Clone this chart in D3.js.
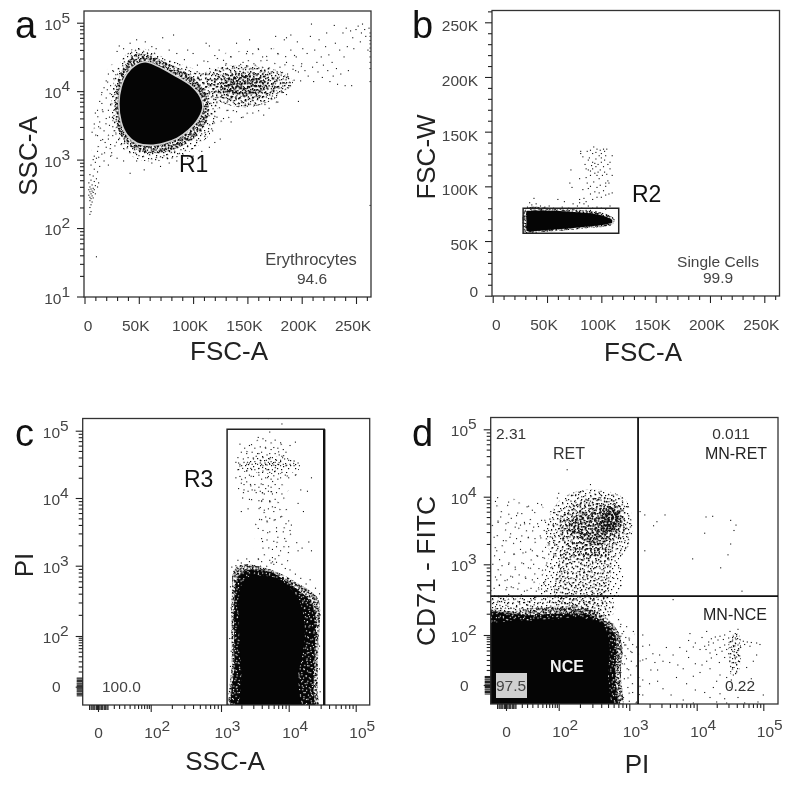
<!DOCTYPE html>
<html>
<head>
<meta charset="utf-8">
<script src="https://cdn.jsdelivr.net/npm/d3@7"></script>
<style>
  body { margin: 0; background: #fff; }
  svg { display: block; filter: blur(0.35px); font-family: "Liberation Sans", Arial, sans-serif; }
</style>
</head>
<body>
<div id="chart"></div>
<script>

// --- panel a : FSC-A (K) vs SSC-A (decades)
const gateR1 = [[31.6,3.82],[33.7,4.06],[39.2,4.26],[46.9,4.38],[56.1,4.43],[66.8,4.37],[82.1,4.24],[97.4,4.09],[106.6,3.92],[109.1,3.77],[105.1,3.6],[95.9,3.43],[85.2,3.31],[72.9,3.24],[60.7,3.21],[48.4,3.24],[39.2,3.36],[33.7,3.55]]
const aLeftCloud = [[8,3.05],[10,3.6],[16,4],[22,4.35],[30,4.4],[32,3.4],[22,3]]
const aTailCloud = [[112,4.42],[150,4.6],[182,4.6],[200,4.45],[192,4.05],[165,3.68],[130,3.55],[112,3.5]]
const aHalo = [[25,3.72],[27,4.15],[34,4.45],[45,4.62],[60,4.6],[72,4.5],[88,4.4],[104,4.3],[120,4.1],[122,3.7],[118,3.42],[104,3.2],[88,3.05],[70,2.98],[50,3],[36,3.15],[28,3.4]]
const aHaloDense = [[29,3.6],[30,4.1],[37,4.38],[47,4.54],[60,4.52],[72,4.44],[88,4.32],[100,4.2],[112,3.95],[114,3.65],[106,3.4],[92,3.22],[72,3.1],[52,3.12],[40,3.22],[32,3.4]]
const aCluster = [[100,4.16],[122,4.34],[150,4.38],[178,4.3],[192,4.14],[172,3.86],[145,3.76],[122,3.86],[102,4]]
const aClusterMid = [[112,4.13],[130,4.26],[152,4.3],[174,4.22],[180,4.06],[164,3.9],[142,3.85],[122,3.94]]
const aClusterCore = [[128,4.16],[150,4.24],[166,4.16],[162,4],[142,3.94],[126,4.04]]
const aPoints = [
  [172,4.28],[175,4.05],[178,4.18],[180,4.35],[182,3.98],[184,4.12],[186,4.42],[187,4.25],[189,4.08],[190,4.6],[192,4.32],[193,4.16],[195,4.5],[196,4.72],[197,4.28],[199,4.15],[200,4.4],[201,4.62],[197,3.85],[203,4.3],[205,4.55],[206,4.22],[208,4.8],[209,4.98],[210,4.35],[211,4.14],[212,4.6],[214,4.42],[215,4.28],[216,4.75],[218,4.5],[219,4.2],[220,4.38],[222,4.65],[223,4.85],[224,4.3],[225,4.53],[226,4.14],[228,4.42],[229,4.22],[230,4.96],[231,4.7],[232,4.33],[233,4.1],[235,4.6],[236,4.25],[238,4.85],[239,4.5],[240,4.08],[241,4.92],[242,4.65],[243,4.3],[245,4.88],[246,4.08],[247,4.78],[248,4.62],[250,4.9],[252,4.95],[254,4.72],[255,4.85],[256,4.98],[258,4.9],[259,4.8],[261,4.6],[262,4.92],
  [263,4.85],[263,4.8],[263,4.74],[263,4.69],[263,4.63],[263,4.58],[263,4.5],[263,4.42],[263,4.33],[263,4.14],[263,2.33],
  [72,4.78],[82,4.82],[95,4.6],[100,4.55],[112,4.7],[115,4.66],[120,4.52],[124,4.6],[128,4.45],[135,4.5],[140,4.7],[146,4.42],[150,4.58],[152,4.75],[156,4.4],[160,4.62],[164,4.5],[168,4.45],[172,4.62],[178,4.55],[184,4.75],[186,4.78],[176,4.8],[190,4.82],[130,4.38],[110,4.44],[104,4.38],[92,4.46],[85,4.55],[78,4.6],[66,4.62],[62,4.65],[56,4.72],[48,4.75],[42,4.7],[32,4.66],[30,4.58],[36,4.62],
  [112,3.55],[118,3.42],[122,3.62],[125,3.3],[128,3.6],[132,3.72],[135,3.55],[140,3.7],[146,3.62],[150,3.78],[155,3.68],[160,3.8],[165,3.65],[170,3.75],[175,3.9],[178,3.84],[186,3.95],[120,3.25],[115,3.18],[108,3.12],[100,3.05],[95,3.02],[90,2.92],[85,2.98],[78,2.95],[70,2.9],[62,2.95],[55,2.85],[42,2.8],[48,2.98],[36,2.98],[30,3.02],[25,3.1],
  [22,4.25],[20,4.15],[18,4.05],[16,3.98],[24,4.08],[26,4.3],[14,3.85],[12,3.72],[20,3.9],[24,3.8],[17,3.7],[10,3.68],[9,3.52],[14,3.55],[20,3.6],[23,3.5],[26,3.62],[18,3.42],[12,3.35],[7,3.4],[15,3.28],[22,3.3],[26,3.35],[28,3.2],[20,3.18],[12,3.12],[9,3.05],[16,3.08],[24,3.05],[28,3.95],[25,3.95],[22,3.72],[13,3.48],[19,3.25],[26,3.48],[21,4.02],[27,4.18],[16,3.82],[23,3.62],[28,3.55],[27,3.72],[29,3.9],[24,3.22],[18,2.98],[10,2.96],[14,2.9],[22,2.92],
  [8,3],[11,3.02],[6,2.92],[9,2.86],[12,2.82],[5,2.78],[8,2.76],[11,2.72],[6,2.7],[9,2.68],[13,2.66],[4,2.66],[7,2.63],[10,2.62],[5,2.6],[8,2.58],[12,2.6],[6,2.57],[9,2.56],[4,2.56],[7,2.54],[5,2.53],[8,2.52],[10,2.5],[6,2.5],[4,2.48],[7,2.47],[5,2.45],[8,2.44],[6,2.43],[5,2.4],[7,2.38],[6,2.34],[5,2.3],[6,2.24],[5,2.2],[11,1.58],[9,0.98]
]

// --- panel b : FSC-A (K) vs FSC-W (K)
const gateR2 = [[28,57],[116,57],[116,80],[28,80]]
const bBand = [[31,59.5],[31,77.5],[45,78],[60,77.5],[75,76.5],[90,75.5],[100,73.5],[106,71.5],[110,69.5],[110,66.5],[100,64.5],[85,63],[70,61.5],[55,60.5],[42,59.5],[34,58.5]]
const bFringe = [[30,57.5],[30,79],[60,79.5],[90,77.5],[104,75],[112,70],[110,65],[85,61.5],[55,59],[38,58]]
const bPoints = [
  [32,81],[34,85],[38,89],[36,83],[40,84],[44,82],[48,81],[52,82],[56,80],[60,88],[64,81],[66,86],[70,80],[74,84],[72,79.5],[78,82],[82,80],[84,84],[80,85],[86,86],[88,82],[92,80],[96,81],[100,80],[104,79],[108,82],[90,78],[86,78],[95,77],[58,79],[50,79],[42,79.5],[35,79],[33,57],[37,57],[40,58],
  [72,115],[73,99],[71,103],[80,107],[83,97],[80,88],[84,89],[88,98],[90,93],[92,88],[96,90],[100,90],[104,92],[107,93],[110,94],[86,108],[90,100],[93,104],[96,99],[99,101],[102,96],[104,103],[107,103],[106,105],[104,100],[98,107],[101,110],[105,111],[110,110],[108,116],[106,120],[110,128],[108,122],[104,128],[102,118],[100,122],[97,113],[95,118],[94,112],[92,116],[90,114],[88,115],[86,116],[85,120],[88,124],[92,122],[95,125],[98,128],[100,130],[103,132],[105,134],[102,134],[99,133],[96,134],[93,136],[90,133],[87,132],[81,132],[81,130],[83,127],[89,126],[92,130],[95,131],[97,120],[100,126],[103,124],[91,119],[94,121],[96,110],[99,115],[103,113],[90,110],[87,103],[94,95],[98,94]
]

// --- panel c : SSC-A (decades) vs PI (decades)
const gateR3 = [[3.09,-0.72],[3.09,5.02],[4.53,5.02],[4.53,-0.72]]
const cHalo = [[3.18,-1.5],[3.16,1],[3.16,2.6],[3.2,2.95],[3.35,3.02],[3.6,2.98],[3.9,2.88],[4.15,2.74],[4.35,2.62],[4.45,2.5],[4.44,1.5],[4.43,0],[4.4,-1.5]]
const cInner = [[3.22,-1.5],[3.2,1],[3.2,2.5],[3.25,2.84],[3.4,2.94],[3.7,2.92],[3.9,2.82],[4.1,2.68],[4.3,2.52],[4.4,2.3],[4.39,1.5],[4.37,0],[4.34,-1.5]]
const cCore = [[3.33,-1.5],[3.3,0.5],[3.28,1.5],[3.26,2.4],[3.3,2.72],[3.4,2.84],[3.7,2.85],[3.87,2.8],[4.02,2.68],[4.16,2.5],[4.24,2.1],[4.2,1.2],[4.14,0.5],[4.12,-1.5]]
const cUpper = [[3.3,4.05],[3.24,4.5],[3.5,4.85],[3.75,4.9],[4,4.72],[4.14,4.45],[3.95,4.05],[3.75,3.9],[3.5,3.9]]
const cRow = [[3.25,4.42],[3.5,4.6],[3.8,4.62],[4.1,4.54],[4.15,4.42],[3.85,4.36],[3.55,4.38]]
const cMid = [[3.55,3],[3.5,3.6],[3.6,4.1],[3.95,4.1],[4.05,3.4],[3.95,3]]
const cPoints = [
  [3.9,5.1],[3.7,5.18],[3.72,4.98],[3.55,4.9],[3.62,4.88],[3.66,4.85],[3.8,4.86],[3.88,4.82],[4.1,4.83],[4.02,4.78],[3.28,4.8],[3.42,4.78],[3.35,4.74],[3.5,4.74],[3.58,4.76],[3.66,4.74],[3.74,4.72],[3.78,4.75],[3.84,4.74],[3.92,4.72],[3.96,4.68],[3.3,4.68],[3.38,4.66],[3.46,4.68],[3.54,4.66],[3.6,4.68],[3.68,4.64],[3.72,4.66],[3.8,4.66],[3.86,4.64],[3.9,4.62],[3.25,4.6],[3.33,4.58],[3.4,4.6],[3.48,4.58],[3.52,4.62],[3.58,4.56],[3.62,4.6],[3.67,4.56],[3.72,4.58],[3.76,4.6],[3.82,4.56],[3.88,4.56],[3.94,4.58],[4,4.56],[4.08,4.55],[4.14,4.52],[3.22,4.53],[3.26,4.52],[3.28,4.5],[3.34,4.53],[3.38,4.5],[3.42,4.52],[3.46,4.5],[3.5,4.54],[3.54,4.5],[3.58,4.52],[3.6,4.5],[3.62,4.48],[3.65,4.52],[3.66,4.5],[3.68,4.49],[3.7,4.53],[3.72,4.5],[3.74,4.54],[3.76,4.51],[3.78,4.49],[3.8,4.53],[3.84,4.5],[3.88,4.48],[3.92,4.5],[3.96,4.48],[4.02,4.5],[4.08,4.48],[4.16,4.48],[3.25,4.42],[3.32,4.44],[3.38,4.4],[3.44,4.44],[3.5,4.42],[3.56,4.44],[3.62,4.4],[3.68,4.42],[3.72,4.38],[3.76,4.42],[3.8,4.4],[3.85,4.36],[3.9,4.38],[3.95,4.34],[4.0,4.3],[3.28,4.32],[3.36,4.3],[3.42,4.34],[3.48,4.32],[3.56,4.34],[3.6,4.28],[3.66,4.3],[3.7,4.32],[3.74,4.28],[3.78,4.33],[3.84,4.28],[3.88,4.3],[3.22,4.3],[4.1,4.34],[4.34,4.3],[3.3,4.22],[3.34,4.2],[3.38,4.24],[3.44,4.18],[3.5,4.2],[3.56,4.16],[3.62,4.2],[3.66,4.14],[3.7,4.18],[3.74,4.16],[3.8,4.2],[3.86,4.14],[4.18,4.12],[3.26,4.14],[3.34,4.12],[3.4,4.1],[3.46,4.12],[3.52,4.08],[3.58,4.1],[3.64,4.06],[3.7,4.1],[3.76,4.06],[3.82,4.08],[3.9,4.06],[4.28,4.1],[3.32,4],[3.42,3.98],[3.56,3.96],[3.62,3.98],[3.72,3.96],[3.8,3.98],[4.14,3.92],[3.3,3.8],[3.4,3.84],[3.58,3.86],[3.64,3.82],[3.7,3.84],[3.8,3.86],[3.78,3.8],[3.66,3.72],[3.72,3.7],[4.22,3.8],[3.6,3.68],[3.68,3.66],[3.8,3.68],[3.88,3.72],[3.96,3.62],[4.04,3.6],[3.55,3.55],[3.62,3.52],[3.72,3.5],[3.82,3.56],[3.92,3.5],[4.02,3.52],[3.6,3.4],[3.68,3.38],[3.78,3.36],[3.84,3.42],[3.96,3.36],[4.12,3.34],[4.3,3.35],[3.62,3.26],[3.76,3.24],[3.82,3.28],[3.88,3.22],[4.0,3.28],[4.14,3.22],[4.2,3.26],[4.34,3.22],[3.55,3.1],[3.6,3.06],[3.38,3.1],[3.42,3.06],[3.25,3.08],[3.3,3.04],[3.72,3.08],[3.76,3.12],[3.8,3.1],[3.74,3.04],[3.78,3.02],[3.82,3.05],[3.9,3.02],[3.95,2.96],[4.02,2.94],[4.1,2.88],[4.18,2.82],[4.26,2.74],[4.4,2.68],[4.32,2.8],[4.46,2.6],[3.22,3.0],[3.16,2.98],[3.14,2.7],[3.15,2.4],[3.13,1.9],[3.15,1.4],[3.14,0.8],[4.47,2.3],[4.46,1.6],[4.46,0.7],[4.47,-0.2]
]

// --- panel d : PI (decades) vs CD71-FITC (decades)
const quadX = 3.13
const quadY = 2.55
const dNce = [[-1.5,-1.5],[-1.5,2.17],[-0.7,2.17],[0.3,2.2],[1,2.2],[2,2.23],[2.3,2.24],[2.55,2.18],[2.68,2.05],[2.72,1.5],[2.7,0.5],[2.66,-1.5]]
const dNceInner = [[-1.5,-1.5],[-1.5,2.24],[1,2.28],[2,2.3],[2.45,2.28],[2.68,2.14],[2.8,1.95],[2.8,0.5],[2.76,-1.5]]
const dNceHalo = [[-1.5,-1.5],[-1.5,2.3],[0.3,2.34],[1,2.38],[2,2.4],[2.4,2.38],[2.65,2.26],[2.84,2.05],[2.9,1.5],[2.88,0.5],[2.84,-1.5]]
const dBand = [[-0.7,2.28],[-0.7,2.53],[0.5,2.53],[1.6,2.54],[2.72,2.54],[2.78,2.3]]
const dLeft = [[-0.62,2.56],[-0.62,3.98],[0.5,3.95],[1.4,3.85],[1.9,3.6],[1.85,2.56]]
const dColumnOuter = [[1.3,2.56],[1.55,3],[1.8,3.3],[2.1,3.3],[2.55,3.3],[2.85,3.1],[2.85,2.56]]
const dColumn = [[1.85,2.42],[1.95,2.95],[2.1,3.3],[2.45,3.3],[2.72,3.15],[2.72,2.7],[2.66,2.4],[2.5,2.28],[2.05,2.32]]
const dRetOuter = [[1.5,3.35],[1.7,3.75],[2.05,3.98],[2.35,4.1],[2.7,4.08],[2.95,3.95],[3.05,3.65],[2.98,3.25],[2.78,3.05],[2.4,3.05],[1.95,3.1]]
const dRetCloud = [[1.95,3.55],[2.1,3.8],[2.3,3.95],[2.55,4],[2.8,3.95],[2.93,3.75],[2.95,3.5],[2.82,3.3],[2.65,3.12],[2.4,3.1],[2.1,3.3]]
const dRetCore = [[2.1,3.55],[2.25,3.72],[2.45,3.78],[2.7,3.88],[2.88,3.78],[2.88,3.55],[2.7,3.35],[2.5,3.28],[2.3,3.38]]
const dRetDark = [[2.6,3.72],[2.75,3.84],[2.85,3.72],[2.78,3.52],[2.6,3.5]]
const dNceRight = [[2.8,2.3],[3.1,1.9],[3.11,-0.8],[2.8,-0.8]]
const dMnColumn = [[4.5,0.7],[4.5,1.9],[4.62,2.02],[4.66,1.25],[4.62,0.45],[4.52,0.4]]
const dPoints = [
  [2.12,4.4],[2.35,4.08],[2.45,4.18],[2.2,4.02],[2,4.05],[1.95,3.98],[2.3,4.06],[2.6,4.08],[2.75,4.02],[2.9,3.98],[2.98,3.85],[3.02,3.6],[2.98,3.4],[2.95,3.25],[1.7,3.78],[1.8,3.6],[1.62,3.5],[1.5,3.62],[1.35,3.88],[1.2,3.9],[1,3.8],[0.8,3.85],[0.6,3.75],[0.4,3.72],[0.1,3.92],[-0.4,3.93],[-0.2,3.7],[-0.3,3.62],[0,3.6],[0.2,3.68],[0.35,3.55],[0.55,3.58],[0.7,3.62],[0.9,3.6],[1.05,3.55],[1.2,3.6],[1.35,3.65],[1.45,3.5],[1.6,3.32],[1.75,3.4],[1.85,3.28],[-0.45,3.4],[-0.1,3.35],[0.15,3.4],[0.4,3.38],[0.6,3.42],[0.85,3.4],[1.1,3.38],[1.3,3.42],[1.5,3.25],[1.62,3.15],[1.8,3.1],[-0.35,3.2],[-0.05,3.18],[0.3,3.15],[0.55,3.22],[0.75,3.18],[1,3.2],[1.2,3.12],[1.4,3.1],[1.55,3.02],[1.7,2.95],[1.5,2.92],[-0.5,3],[-0.15,2.98],[0.1,3],[0.35,2.96],[0.6,3.02],[0.85,2.95],[1.05,3],[1.25,2.94],[1.38,2.85],[-0.4,2.82],[-0.2,2.85],[0.05,2.78],[0.25,2.82],[0.5,2.85],[0.75,2.8],[1,2.78],[1.2,2.8],[1.45,2.72],[1.6,2.8],[-0.45,2.66],[-0.25,2.7],[0,2.64],[0.2,2.68],[0.45,2.65],[0.7,2.62],[0.95,2.66],[1.15,2.62],[1.35,2.65],[1.55,2.62],[1.7,2.68],[2.8,3.05],[2.85,2.95],[2.78,2.8],[2.88,2.7],[2.9,3.15],
  [-0.5,2.5],[-0.3,2.48],[-0.1,2.5],[0.1,2.46],[0.3,2.5],[0.5,2.46],[0.7,2.5],[0.9,2.46],[1.1,2.5],[1.3,2.46],[1.5,2.5],[1.65,2.46],[-0.4,2.4],[-0.2,2.38],[0,2.42],[0.2,2.38],[0.4,2.4],[0.6,2.38],[0.8,2.42],[1,2.38],[1.2,2.4],[1.4,2.36],[1.6,2.38],
  [2.88,2.15],[2.92,2.05],[2.95,1.9],[2.88,1.95],[3,1.8],[3.05,1.62],[2.92,1.7],[2.98,1.45],[3.04,1.3],[2.9,1.25],[2.96,1.05],[3.03,0.95],[2.9,0.85],[2.97,0.65],[2.88,0.5],[3.02,0.4],[2.93,0.25],[2.86,0.1],[2.98,-0.1],[3.05,-0.3],[2.9,-0.4],[2.86,-0.6],[3,-0.65],[3.1,-0.72],[2.95,1.6],[2.88,1.4],[3.06,2.05],
  [3.16,3.78],[3.23,3.73],[3.36,3.57],[3.53,3.73],[3.41,3.63],[3.23,3.2],[4.14,3.7],[4.24,3.71],[4.12,3.46],[4.51,3.65],[4.59,3.58],[4.56,3.5],[4.51,3.3],[4.47,3.14],[3.94,3.08],[4.36,2.95],[4.68,2.62],
  [3.65,2.5],[3.2,2],[3.2,1.55],[3.2,1],[3.2,0.2],[3.2,-0.4],[3.3,1.6],[3.35,1.25],[3.45,1.2],[3.25,1.05],[3.55,1.5],[3.38,0.9],[3.32,0.6],[3.42,0.6],[3.42,0.15],[3.3,0.05],[3.5,-0.15],[3.6,0.9],[3.5,0.95],[3.65,1.2],[3.72,0.8],[3.8,0.65],[3.75,1.5],[3.85,1.35],[3.88,1.1],[3.9,2.02],[3.88,1.78],[3.95,1.52],[3.7,0.3],[3.62,-0.4],[3.8,-0.6],[3.85,0.05],[3.95,0.35],[3.98,-0.2],[3.95,-0.72],
  [4.15,2.05],[4.08,1.9],[3.98,1.68],[3.98,0.85],[4.05,1.42],[4.12,1.55],[4.18,1.72],[4.22,1.85],[4.28,1.92],[4.35,1.95],[4.42,2],[4.5,2.05],[4.58,2.02],[4.62,2.08],[4.55,1.95],[4.48,1.88],[4.4,1.82],[4.32,1.8],[4.25,1.68],[4.18,1.6],[4.14,1.42],[4.2,1.28],[4.28,1.4],[4.35,1.5],[4.42,1.6],[4.5,1.72],[4.54,1.8],[4.58,1.88],[4.6,1.95],[4.65,1.82],[4.7,1.75],[4.76,1.72],[4.82,1.7],[4.9,1.68],[4.95,1.62],[4.72,1.62],[4.8,1.55],[4.66,1.5],[4.62,1.6],[4.58,1.68],[4.55,1.58],[4.5,1.5],[4.45,1.42],[4.38,1.35],[4.3,1.22],[4.22,1.08],[4.15,0.95],[4.08,0.8],[4.05,0.5],[4.2,0.65],[4.34,0.9],[4.42,1.1],[4.48,1.25],[4.54,1.35],[4.57,1.42],[4.6,1.3],[4.63,1.4],[4.56,1.2],[4.6,1.12],[4.62,1.22],[4.58,1.05],[4.55,0.9],[4.6,0.8],[4.63,0.95],[4.56,0.7],[4.6,0.55],[4.55,0.4],[4.52,0.2],[4.5,-0.1],[4.45,0.3],[4.35,0.4],[4.3,0.15],[4.25,-0.1],[4.12,-0.3],[4.2,-0.5],[4.35,-0.35],[4.42,-0.55],[4.62,-0.5],[4.75,0.7],[4.85,0.95],[4.82,0.25],[4.7,-0.2],[5,-0.4],[4.9,1.2],[4.92,-0.68],[4.3,-0.68],[4.45,-0.72],[4.72,-0.72]
]
const labelBox = 97.5

// --- ticks
const kTicks = [0, 50, 100, 150, 200, 250]
const kMinor = [10,20,30,40,60,70,80,90,110,120,130,140,160,170,180,190,210,220,230,240,260]
const decadesA = [1, 2, 3, 4, 5]
const decadesB = [0, 2, 3, 4, 5]
const logSteps = [0.301,0.477,0.602,0.699,0.778,0.845,0.903,0.954]
const logMinor = [1,2,3,4].flatMap(d => logSteps.map(s => d + s))
const biexLow = [0.6,0.8,1,1.2,1.38,1.52,1.64,1.75,1.85,1.93]
const biexMinor = biexLow.concat(logMinor.filter(d => d > 2))
const zeroBlock = [-0.34,-0.28,-0.24,-0.18,-0.14,-0.08,-0.04,0.02,0.06,0.12,0.16,0.22,0.26,0.32,0.36]
const stipple = [[2,3],[9,1],[16,4],[24,2],[28,8],[5,9],[12,7],[20,10],[1,15],[8,14],[15,13],[25,14],[4,21],[11,19],[18,18],[22,22],[28,19],[7,26],[14,25],[20,28],[26,26],[3,28],[19,1],[13,2],[27,3],[6,5],[22,6],[17,8],[10,11],[3,12],[24,10],[29,13],[13,16],[20,15],[7,18],[25,18],[1,23],[16,22],[10,23],[27,23],[5,15],[23,28],[12,28],[18,25]]

const width = 800
const height = 785
const svg = d3.select('#chart').append('svg').attr('width', width).attr('height', height)
const defs = svg.append('defs')

// one tile, stacked at different rotations for the denser parts
function addPattern(id, rotate, tile, color, size) {
  const p = defs.append('pattern')
    .attr('id', id)
    .attr('patternUnits', 'userSpaceOnUse')
    .attr('width', 30 * tile).attr('height', 30 * tile)
    .attr('patternTransform', 'rotate(' + rotate + ')')
  p.selectAll('rect').data(stipple).join('rect')
    .attr('x', d => d[0] * tile).attr('y', d => d[1] * tile)
    .attr('width', size).attr('height', size)
    .attr('fill', color)
}
const rotations = [0, 37, 71, 113, 149, 23, 58, 97, 131, 11]
rotations.forEach((r, i) => addPattern('st' + i, r, 1, '#0a0a0a', 1.2))
addPattern('sparse', 19, 2, '#0a0a0a', 1.1)
addPattern('neg0', 14, 1, '#fff', 1.1)
addPattern('neg1', 83, 1, '#fff', 1.1)

function panel(o) {
  const g = svg.append('g')
  const id = 'clip' + o.name
  defs.append('clipPath').attr('id', id).append('rect')
    .attr('x', o.left).attr('y', o.top).attr('width', o.right - o.left).attr('height', o.bottom - o.top)
  const line = d3.line().x(d => o.x(d[0])).y(d => o.y(d[1]))
  const smooth = d3.line().x(d => o.x(d[0])).y(d => o.y(d[1])).curve(d3.curveCatmullRomClosed)
  const marks = g.append('g').attr('clip-path', 'url(#' + id + ')')
  // stippled density regions, level = how many rotated tiles are stacked, 0 = the sparse tile
  ;(o.clouds || []).forEach(c => {
    if (c.neg) {
      marks.append('path').attr('d', smooth(c.shape)).attr('fill', '#050505')
      d3.range(c.neg).forEach(i => marks.append('path').attr('d', smooth(c.shape)).attr('fill', 'url(#neg' + i + ')'))
    } else if (c.level === 0) {
      marks.append('path').attr('d', smooth(c.shape)).attr('fill', 'url(#sparse)')
    } else {
      d3.range(c.level).forEach(i => {
        marks.append('path').attr('d', smooth(c.shape)).attr('fill', 'url(#st' + i + ')')
      })
    }
  })
  ;(o.solids || []).forEach(s => {
    marks.append('path').attr('d', smooth(s)).attr('fill', '#050505')
  })
  ;(o.hard || []).forEach(s => {
    marks.append('path').attr('d', line(s) + 'Z').attr('fill', '#050505')
  })
  marks.append('g').selectAll('rect').data(o.points || []).join('rect')
    .attr('x', d => o.x(d[0]) - 0.55).attr('y', d => o.y(d[1]) - 0.55)
    .attr('width', 1.1).attr('height', 1.1)
    .attr('fill', '#111')
  g.append('rect')
    .attr('x', o.left).attr('y', o.top).attr('width', o.right - o.left).attr('height', o.bottom - o.top)
    .attr('fill', 'none').attr('stroke', '#333').attr('stroke-width', 1.3)

  // axes
  const xa = g.append('g').attr('transform', 'translate(0,' + o.bottom + ')')
  const ya = g.append('g').attr('transform', 'translate(' + o.left + ',0)')
  xa.append('g').call(d3.axisBottom(o.x).tickValues(o.xMinor).tickSize(4).tickFormat('')).call(a => a.select('.domain').remove())
  ya.append('g').call(d3.axisLeft(o.y).tickValues(o.yMinor).tickSize(4).tickFormat('')).call(a => a.select('.domain').remove())
  xa.append('g').call(d3.axisBottom(o.x).tickValues(o.xTicks).tickSize(7).tickFormat(o.fmt)).call(a => a.select('.domain').remove()).call(o.xLabel)
  ya.append('g').call(d3.axisLeft(o.y).tickValues(o.yTicks).tickSize(7).tickPadding(7).tickFormat(o.fmt)).call(a => a.select('.domain').remove()).call(o.yLabel)
  if (o.zeroBlocks) {
    xa.append('g').call(d3.axisBottom(o.x).tickValues(zeroBlock).tickSize(5).tickFormat('')).call(a => a.select('.domain').remove())
    ya.append('g').call(d3.axisLeft(o.y).tickValues(zeroBlock).tickSize(6).tickFormat('')).call(a => a.select('.domain').remove())
  }
  g.selectAll('.tick line').attr('stroke', '#222').attr('stroke-width', 1.1)
  g.selectAll('.tick text').attr('fill', '#444').style('font-size', '15.5px').style('font-family', 'inherit')
  return { g, line }
}

function kLabelX(sel) {
  sel.selectAll('.tick text').attr('dx', d => d === 0 ? 3 : -3.5).attr('dy', 0).attr('y', 34)
}
function kLabelY(sel) {
  sel.selectAll('.tick text').attr('dy', d => d === 0 ? 0.5 : 8.5)
}
function supText(t, d) {
  t.text(null)
  t.append('tspan').text('10')
  t.append('tspan').attr('dy', -7).text(d)
}
function logLabelX(sel) {
  sel.selectAll('.tick text').each(function(d) {
    const t = d3.select(this).attr('y', 33).attr('dy', 0)
    if (d === 0) { t.text('0').attr('dx', 0); return }
    t.attr('dx', 6)
    supText(t, d)
  })
}
function logLabelY(sel) {
  sel.selectAll('.tick text').each(function(d) {
    const t = d3.select(this).attr('dy', 6.5).attr('x', -14)
    if (d === 0) { t.text('0').attr('x', -22).attr('dy', 5); return }
    supText(t, d)
  })
}
const kFormat = d => d === 0 ? '0' : d + 'K'

// panel a
const xA = d3.scaleLinear().domain([0, 250]).range([84.5, 356])
const yA = d3.scaleLinear().domain([1, 5]).range([296.5, 22.7])
const pa = panel({
  name: 'a', left: 84, right: 371, top: 11, bottom: 297, x: xA, y: yA,
  clouds: [{shape: aLeftCloud, level: 0}, {shape: aTailCloud, level: 0}, {shape: aHalo, level: 2}, {shape: aHaloDense, level: 9},
    {shape: aCluster, level: 3}, {shape: aClusterMid, level: 4}, {shape: aClusterCore, level: 7}],
  points: aPoints,
  xTicks: kTicks, xMinor: kMinor, yTicks: decadesA, yMinor: logMinor,
  fmt: kFormat, xLabel: kLabelX, yLabel: logLabelY
})
pa.g.append('path').attr('d', d3.line().x(d => xA(d[0])).y(d => yA(d[1])).curve(d3.curveCatmullRomClosed)(gateR1))
  .attr('fill', '#050505').attr('stroke', '#d4d4d4').attr('stroke-width', 1.6)

// panel b
const xB = d3.scaleLinear().domain([0, 250]).range([492.7, 764.3])
const yB = d3.scaleLinear().domain([0, 250]).range([295.7, 22.3])
const pb = panel({
  name: 'b', left: 492, right: 779.5, top: 10.5, bottom: 296, x: xB, y: yB,
  clouds: [{shape: bFringe, level: 8}], hard: [bBand], points: bPoints,
  xTicks: kTicks, xMinor: kMinor, yTicks: kTicks, yMinor: kMinor,
  fmt: kFormat, xLabel: kLabelX, yLabel: kLabelY
})
pb.g.append('path').attr('d', pb.line(gateR2) + 'Z').attr('fill', 'none').attr('stroke', '#222').attr('stroke-width', 1.5)

// panel c
const xC = d3.scaleLinear().domain(decadesB).range([98, 150.7, 221, 288.7, 355.7])
const yC = d3.scaleLinear().domain(decadesB).range([686.7, 636, 565.7, 498, 430.7])
const pc = panel({
  name: 'c', left: 82.7, right: 369.7, top: 418.5, bottom: 705, x: xC, y: yC,
  clouds: [{shape: cUpper, level: 0}, {shape: cMid, level: 0}, {shape: cRow, level: 1}, {shape: cHalo, level: 9}, {shape: cInner, neg: 2}],
  solids: [cCore], points: cPoints,
  xTicks: decadesB, xMinor: biexMinor, yTicks: decadesB, yMinor: biexMinor, zeroBlocks: true,
  fmt: d => d, xLabel: logLabelX, yLabel: logLabelY
})
pc.g.append('path').attr('d', pc.line(gateR3)).attr('fill', 'none').attr('stroke', '#222').attr('stroke-width', 1.5)
pc.g.append('path').attr('d', pc.line(gateR3.slice(2))).attr('fill', 'none').attr('stroke', '#111').attr('stroke-width', 2.4)

// panel d
const xD = d3.scaleLinear().domain(decadesB).range([506, 558.7, 629.3, 696.7, 763.3])
const yD = d3.scaleLinear().domain(decadesB).range([685, 635, 564.3, 496.7, 429.3])
const pd = panel({
  name: 'd', left: 490.7, right: 778, top: 417.5, bottom: 704, x: xD, y: yD,
  clouds: [{shape: dLeft, level: 0}, {shape: dBand, level: 2}, {shape: dColumnOuter, level: 1}, {shape: dColumn, level: 3},
    {shape: dRetOuter, level: 2}, {shape: dRetCloud, level: 4}, {shape: dRetCore, level: 7}, {shape: dRetDark, level: 10},
    {shape: dNceRight, level: 0}, {shape: dMnColumn, level: 2},
    {shape: dNceHalo, level: 9}, {shape: dNceInner, neg: 2}],
  solids: [dNce], points: dPoints,
  xTicks: decadesB, xMinor: biexMinor, yTicks: decadesB, yMinor: biexMinor, zeroBlocks: true,
  fmt: d => d, xLabel: logLabelX, yLabel: logLabelY
})
pd.g.append('line').attr('x1', xD(quadX)).attr('x2', xD(quadX)).attr('y1', 417.5).attr('y2', 704).attr('stroke', '#111').attr('stroke-width', 1.8)
pd.g.append('line').attr('x1', 490.7).attr('x2', 778).attr('y1', yD(quadY)).attr('y2', yD(quadY)).attr('stroke', '#111').attr('stroke-width', 1.8)
svg.append('rect').attr('x', 496).attr('y', 673).attr('width', 31).attr('height', 25).attr('fill', '#d0d0d0')

// text
function label(x, y, s, size, opts) {
  const o = opts || {}
  const t = svg.append('text').attr('x', x).attr('y', y).text(s)
    .style('font-size', size + 'px').attr('fill', o.fill || '#111')
    .attr('text-anchor', o.anchor || 'start')
  if (o.rotate) t.attr('transform', 'rotate(-90 ' + x + ' ' + y + ')')
  if (o.weight) t.style('font-weight', o.weight)
  return t
}
label(15, 38, 'a', 38)
label(412, 38, 'b', 38)
label(15, 446, 'c', 38)
label(412, 446, 'd', 38)

label(229, 360, 'FSC-A', 26, {anchor: 'middle', fill: '#222'})
label(37, 156, 'SSC-A', 26, {anchor: 'middle', rotate: true, fill: '#222'})
label(643, 361, 'FSC-A', 26, {anchor: 'middle', fill: '#222'})
label(435, 157, 'FSC-W', 26, {anchor: 'middle', rotate: true, fill: '#222'})
label(225, 770, 'SSC-A', 26, {anchor: 'middle', fill: '#222'})
label(33, 565, 'PI', 26, {anchor: 'middle', rotate: true, fill: '#222'})
label(637, 773, 'PI', 26, {anchor: 'middle', fill: '#222'})
label(435, 571, 'CD71 - FITC', 26.5, {anchor: 'middle', rotate: true, fill: '#222'})

label(179, 172, 'R1', 23)
label(632, 202, 'R2', 23)
label(184, 487, 'R3', 23)

const grey = {anchor: 'middle', fill: '#444'}
label(311, 265, 'Erythrocytes', 16.5, grey)
label(312, 284, '94.6', 15.5, grey)
label(718, 267, 'Single Cells', 15.5, grey)
label(718, 283, '99.9', 15.5, grey)
label(102, 692, '100.0', 15.5, {fill: '#444'})
label(496, 439, '2.31', 15.5, {fill: '#333'})
label(569, 459, 'RET', 16, {anchor: 'middle', fill: '#333'})
label(731, 439, '0.011', 15.5, {anchor: 'middle', fill: '#333'})
label(736, 459, 'MN-RET', 16, {anchor: 'middle', fill: '#222'})
label(735, 620, 'MN-NCE', 16, {anchor: 'middle', fill: '#222'})
label(740, 691, '0.22', 15.5, {anchor: 'middle', fill: '#333'})
label(567, 672, 'NCE', 16, {anchor: 'middle', fill: '#f4f4f4', weight: 'bold'})
label(511, 691, labelBox, 15.5, {anchor: 'middle', fill: '#444'})
</script>
</body>
</html>
